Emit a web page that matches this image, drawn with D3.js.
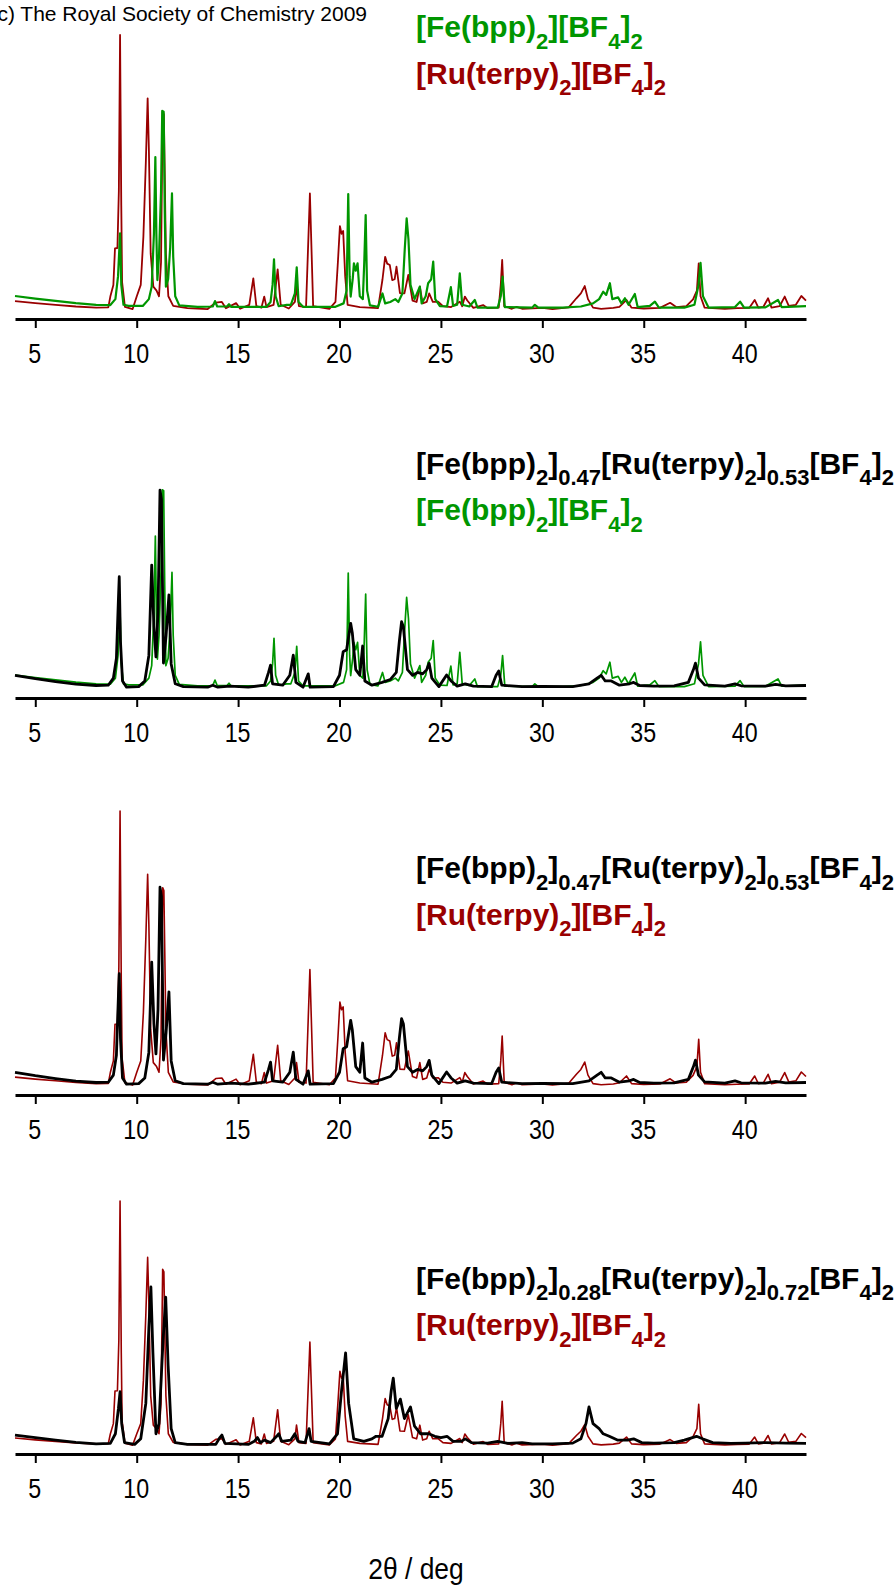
<!DOCTYPE html>
<html>
<head>
<meta charset="utf-8">
<script src="https://cdn.jsdelivr.net/npm/d3@7"></script>
<style>
  html, body { margin: 0; padding: 0; background: #fff; }
  svg { display: block; font-family: "Liberation Sans", Arial, sans-serif; }
</style>
</head>
<body>
<script>
// powder patterns, [2theta (deg), intensity (arb. units)]
const ruTerpy = [
  [4.0, 6.3], [5.0, 5.6], [6.0, 5.0], [7.0, 4.4], [8.0, 4.0], [8.6, 4.1], [8.7, 7.9], [8.85, 12],
  [8.93, 24.9], [9.05, 25], [9.12, 45], [9.18, 100], [9.24, 40], [9.28, 13], [9.42, 4.3], [9.8, 3.5],
  [10.0, 7.9], [10.2, 12], [10.33, 29], [10.45, 55], [10.54, 77.7], [10.6, 60], [10.69, 23],
  [10.82, 11.4], [10.98, 10], [11.1, 8], [11.2, 20], [11.28, 73], [11.34, 72], [11.44, 23],
  [11.56, 8], [11.8, 4.6], [12.5, 3.8], [13.5, 3.5], [13.9, 5.8], [14.2, 6], [14.4, 3.8],
  [14.9, 5.6], [15.1, 3.6], [15.55, 5], [15.75, 14.3], [15.9, 4.5], [16.15, 4], [16.29, 7.9],
  [16.4, 4.2], [16.75, 5], [16.95, 17.5], [17.1, 5], [17.5, 3.7], [17.8, 6], [17.88, 11.4],
  [18.0, 4.5], [18.35, 4.2], [18.54, 44.2], [18.7, 4.5], [19.5, 3.6], [19.8, 6], [19.92, 20],
  [20.02, 32.7], [20.1, 30], [20.18, 31], [20.28, 15], [20.4, 5], [21.0, 4.2], [21.9, 3.8],
  [22.0, 8.4], [22.12, 14], [22.25, 21.9], [22.35, 19.5], [22.48, 19], [22.6, 13.7], [22.72, 14],
  [22.81, 18.4], [22.98, 9.1], [23.2, 9], [23.39, 15.5], [23.6, 6.5], [23.8, 6], [23.96, 11.4],
  [24.1, 5.5], [24.3, 6], [24.42, 9], [24.6, 6], [24.86, 6.1], [25.1, 4.5], [25.5, 4.2],
  [25.93, 6.1], [26.05, 4.5], [26.18, 7.9], [26.3, 6.5], [26.6, 3.9], [27.08, 4.9], [27.3, 3.8],
  [27.85, 4], [27.95, 12], [28.02, 20.8], [28.12, 4.5], [28.5, 3.6], [28.73, 4.3], [29.0, 3.6],
  [30.0, 3.9], [30.5, 3.5], [31.3, 4.1], [31.68, 7.3], [31.9, 9], [32.09, 11.6], [32.25, 7],
  [32.5, 4], [32.9, 3.6], [33.5, 3.9], [33.8, 4.3], [34.15, 6.7], [34.4, 4], [35.0, 3.7],
  [35.8, 3.9], [36.3, 5.7], [36.6, 4.2], [37.1, 4.5], [37.43, 6.9], [37.62, 10], [37.71, 19.6],
  [37.8, 8], [38.0, 4], [39.0, 3.6], [39.6, 3.8], [40.2, 3.9], [40.47, 6.7], [40.65, 4],
  [40.9, 4.3], [41.13, 7.3], [41.3, 4], [41.7, 4.5], [41.95, 7.9], [42.15, 4.6], [42.5, 5],
  [42.77, 8.1], [43.0, 6.5]
];

const feBpp = [
  [4.0, 8.1], [5.0, 7.2], [6.0, 6.4], [7.0, 5.6], [8.0, 5.0], [8.7, 4.9], [8.95, 7], [9.08, 15],
  [9.18, 30.2], [9.24, 12], [9.35, 5], [9.6, 4.6], [10.3, 4.6], [10.6, 7], [10.74, 11.4],
  [10.85, 30], [10.92, 57], [10.97, 30], [11.02, 13.7], [11.1, 22], [11.2, 45], [11.26, 73.3],
  [11.33, 73], [11.38, 40], [11.44, 11.4], [11.55, 14], [11.65, 25], [11.74, 44.2], [11.8, 22],
  [11.9, 8], [12.1, 4.8], [13.0, 4.3], [13.75, 4.4], [13.86, 6.3], [13.97, 4.4], [14.45, 4.4],
  [14.55, 5.2], [14.65, 4.3], [16.4, 4.3], [16.6, 6], [16.7, 12], [16.77, 21], [16.85, 8],
  [17.0, 4.5], [17.4, 5], [17.6, 5], [17.8, 9], [17.89, 18.2], [17.98, 6], [18.2, 4.3],
  [19.8, 4.3], [20.2, 5.5], [20.35, 10], [20.43, 44], [20.5, 15], [20.55, 7.9], [20.65, 14],
  [20.71, 19.6], [20.8, 17], [20.89, 19.6], [21.0, 8], [21.15, 7], [21.22, 20], [21.29, 36.6],
  [21.36, 10], [21.5, 4.8], [21.9, 4.3], [22.12, 9], [22.25, 5.5], [22.5, 6], [22.75, 7],
  [22.9, 6], [23.1, 9], [23.22, 25], [23.31, 35.4], [23.4, 28], [23.5, 12], [23.7, 7],
  [23.96, 11.4], [24.05, 5.5], [24.25, 8], [24.37, 12.6], [24.52, 14], [24.62, 20.2], [24.72, 7],
  [24.95, 4.5], [25.3, 4.4], [25.49, 11.2], [25.6, 4.6], [25.8, 5], [25.93, 16.1], [26.05, 5],
  [26.4, 4.4], [26.67, 6.7], [26.8, 4], [27.8, 4], [27.95, 8], [28.04, 14.9], [28.15, 4.2],
  [29.5, 4], [29.63, 5], [29.8, 4], [31.0, 4], [31.9, 4.4], [32.5, 5.5], [32.8, 7], [33.0, 9.6],
  [33.15, 8.5], [33.33, 12.6], [33.45, 7], [33.74, 7.6], [33.9, 5.5], [34.07, 7.3], [34.25, 5],
  [34.56, 8.8], [34.7, 4.2], [35.3, 4.6], [35.55, 6.1], [35.75, 4], [37.0, 4], [37.5, 5],
  [37.7, 12], [37.8, 19.8], [37.92, 8], [38.2, 4], [39.5, 4.2], [39.75, 6.1], [39.95, 4],
  [41.0, 4.1], [41.62, 6.7], [41.8, 4.2], [43.0, 4.5]
];

const mix047 = [
  [4.0, 8], [5.0, 6.8], [6.0, 5.8], [7.0, 4.9], [8.0, 4.4], [8.6, 4.5], [8.85, 7], [9.0, 14],
  [9.1, 35], [9.14, 42.7], [9.2, 20], [9.3, 6], [9.5, 3.8], [10.1, 4], [10.4, 6], [10.6, 15],
  [10.74, 46.8], [10.85, 25], [10.95, 14.5], [11.05, 30], [11.15, 73.2], [11.22, 70],
  [11.32, 12.3], [11.45, 22], [11.59, 36.3], [11.7, 12], [11.9, 5], [12.3, 4], [13.5, 3.8],
  [13.75, 4.5], [14.0, 3.8], [14.6, 4.2], [15.5, 3.8], [16.3, 4.5], [16.5, 9], [16.6, 11.6],
  [16.7, 5], [17.2, 4.5], [17.55, 8], [17.72, 15.1], [17.85, 5.5], [18.2, 3.8], [18.46, 8.5],
  [18.55, 3.8], [19.7, 4], [20.0, 8], [20.18, 16.3], [20.35, 17], [20.55, 26.3], [20.63, 23],
  [20.8, 10], [21.0, 8], [21.14, 18.3], [21.25, 6], [21.6, 4.5], [22.1, 5.5], [22.5, 6.5],
  [22.8, 9], [22.95, 20], [23.06, 26.9], [23.15, 25], [23.35, 10], [23.6, 8], [23.85, 9],
  [24.1, 8.5], [24.3, 10], [24.42, 12.2], [24.55, 7], [24.9, 4], [25.28, 8.1], [25.5, 6],
  [25.8, 4.2], [26.2, 5], [26.6, 4.2], [27.5, 4], [27.72, 8], [27.85, 9.5], [28.0, 4.5],
  [29.0, 4], [30.0, 4.1], [31.5, 4], [32.3, 5], [32.7, 7], [32.9, 8], [33.1, 6], [33.4, 6],
  [33.8, 4.5], [34.3, 5], [34.5, 5.5], [34.8, 4.4], [35.5, 4.2], [36.5, 4.3], [37.2, 5.5],
  [37.45, 10], [37.55, 12.3], [37.7, 7], [38.0, 4.6], [39.0, 4.2], [39.5, 5], [39.8, 4.3],
  [41.0, 4.2], [41.5, 4.8], [42.0, 4.3], [43.0, 4.4]
];

const mix028 = [
  [4.0, 7.5], [5.0, 6.5], [6.0, 5.5], [7.0, 4.6], [8.0, 4.0], [8.7, 4.2], [8.95, 8], [9.1, 18],
  [9.18, 24.6], [9.26, 12], [9.4, 4.5], [9.9, 3.8], [10.2, 6], [10.45, 20], [10.6, 50],
  [10.7, 66], [10.8, 40], [10.95, 8], [11.1, 12], [11.3, 45], [11.43, 62], [11.55, 35],
  [11.7, 10], [11.9, 4.5], [12.5, 3.8], [13.9, 3.8], [14.1, 6.5], [14.2, 7.5], [14.35, 4.2],
  [15.5, 3.8], [15.8, 5], [15.95, 6.5], [16.1, 4.5], [16.3, 5.5], [16.6, 4.5], [16.9, 7],
  [17.0, 8], [17.15, 5], [17.6, 5.5], [17.8, 8], [17.95, 5], [18.3, 4.5], [18.5, 10],
  [18.6, 5], [19.5, 4], [19.9, 8], [20.1, 25], [20.3, 40], [20.45, 20], [20.7, 6], [21.2, 5],
  [21.6, 6], [21.8, 7], [22.1, 7], [22.4, 14], [22.55, 25], [22.65, 30], [22.8, 18],
  [23.0, 21.7], [23.2, 14], [23.5, 18.6], [23.7, 11], [24.0, 8], [24.4, 8], [24.7, 7],
  [25.0, 6.5], [25.3, 7], [25.6, 5], [26.0, 5], [26.2, 6], [26.5, 4.5], [27.3, 4.3],
  [27.8, 5], [28.3, 4.2], [29.0, 4.5], [29.5, 4], [30.5, 4], [31.5, 4.3], [31.9, 6],
  [32.15, 12], [32.3, 18.6], [32.5, 12], [32.8, 10], [33.0, 8], [33.3, 7], [33.7, 5.5],
  [34.2, 5.5], [34.5, 6], [34.9, 4.5], [35.5, 4.3], [36.5, 4.5], [37.0, 5.5], [37.4, 6.5],
  [37.6, 7], [37.9, 6], [38.4, 4.5], [39.3, 4.2], [40.0, 4.3], [41.0, 4.5], [42.0, 4.3],
  [43.0, 4.2]
];

const tickValues = [5, 10, 15, 20, 25, 30, 35, 40];

// legend strings: [text, isSubscript]
const labelFe = [['[Fe(bpp)', 0], ['2', 1], ['][BF', 0], ['4', 1], [']', 0], ['2', 1]];
const labelRu = [['[Ru(terpy)', 0], ['2', 1], ['][BF', 0], ['4', 1], [']', 0], ['2', 1]];
const labelMix047 = [['[Fe(bpp)', 0], ['2', 1], [']', 0], ['0.47', 1], ['[Ru(terpy)', 0], ['2', 1],
  [']', 0], ['0.53', 1], ['[BF', 0], ['4', 1], [']', 0], ['2', 1]];
const labelMix028 = [['[Fe(bpp)', 0], ['2', 1], [']', 0], ['0.28', 1], ['[Ru(terpy)', 0], ['2', 1],
  [']', 0], ['0.72', 1], ['[BF', 0], ['4', 1], [']', 0], ['2', 1]];

const RED = '#990000';
const GREEN = '#009600';
const BLACK = '#000000';

const width = 894;
const height = 1587;

const svg = d3.select('body').append('svg')
  .attr('width', width)
  .attr('height', height);

const x = d3.scaleLinear().domain([4, 43]).range([15, 806]);

const panels = [
  {
    axisY: 319, unit: 2.84,
    layers: [{ data: ruTerpy, color: RED, w: 1.8 }, { data: feBpp, color: GREEN, w: 2.2 }],
    legend: [{ parts: labelFe, color: GREEN, y: 37 }, { parts: labelRu, color: RED, y: 83.5 }],
  },
  {
    axisY: 698, unit: 2.84,
    layers: [{ data: feBpp, color: GREEN, w: 1.7 }, { data: mix047, color: BLACK, w: 2.8 }],
    legend: [{ parts: labelMix047, color: BLACK, y: 473.5 }, { parts: labelFe, color: GREEN, y: 520 }],
  },
  {
    axisY: 1095, unit: 2.84,
    layers: [{ data: ruTerpy, color: RED, w: 1.6 }, { data: mix047, color: BLACK, w: 2.8 }],
    legend: [{ parts: labelMix047, color: BLACK, y: 878 }, { parts: labelRu, color: RED, y: 924.5 }],
  },
  {
    axisY: 1454, unit: 2.53,
    layers: [{ data: ruTerpy, color: RED, w: 1.6 }, { data: mix028, color: BLACK, w: 2.8 }],
    legend: [{ parts: labelMix028, color: BLACK, y: 1288.5 }, { parts: labelRu, color: RED, y: 1335 }],
  },
];

function drawLegend(g, item) {
  const text = g.append('text')
    .attr('x', 416)
    .attr('y', item.y)
    .attr('fill', item.color)
    .style('font-weight', 'bold')
    .style('font-size', '30px');
  let shifted = false;
  item.parts.forEach(([str, sub]) => {
    const t = text.append('tspan').text(str);
    if (sub && !shifted) {
      t.attr('dy', 11.5).style('font-size', '22px');
      shifted = true;
    } else if (sub) {
      t.style('font-size', '22px');
    } else if (shifted) {
      t.attr('dy', -11.5);
      shifted = false;
    }
  });
}

panels.forEach((p) => {
  const y = d3.scaleLinear().domain([0, 100]).range([p.axisY, p.axisY - 100 * p.unit]);
  const line = d3.line().x(d => x(d[0])).y(d => y(d[1]));
  const g = svg.append('g').attr('class', 'panel');

  p.layers.forEach((layer) => {
    g.append('path')
      .datum(layer.data)
      .attr('fill', 'none')
      .attr('stroke', layer.color)
      .attr('stroke-width', layer.w)
      .attr('stroke-linejoin', 'round')
      .attr('d', line);
  });

  const axis = g.append('g')
    .attr('transform', `translate(0, ${p.axisY})`)
    .call(d3.axisBottom(x).tickValues(tickValues).tickSize(9).tickSizeOuter(0).tickPadding(15.5));
  axis.select('.domain').attr('stroke', '#000').attr('stroke-width', 3);
  axis.selectAll('.tick line').attr('stroke', '#000').attr('stroke-width', 2);
  axis.selectAll('.tick text')
    .attr('fill', '#000')
    .attr('transform', 'translate(-1,0) scale(0.83,1)')
    .style('font-family', '"Liberation Sans", Arial, sans-serif')
    .style('font-size', '28px');

  p.legend.forEach(item => drawLegend(g, item));
});

svg.append('text')
  .attr('x', 367)
  .attr('y', 21)
  .attr('text-anchor', 'end')
  .style('font-size', '21px')
  .text('(c) The Royal Society of Chemistry 2009');

svg.append('text')
  .attr('x', 416)
  .attr('y', 1579)
  .attr('text-anchor', 'middle')
  .attr('transform', 'translate(416,0) scale(0.88,1) translate(-416,0)')
  .style('font-size', '30px')
  .text('2θ / deg');
</script>
</body>
</html>
